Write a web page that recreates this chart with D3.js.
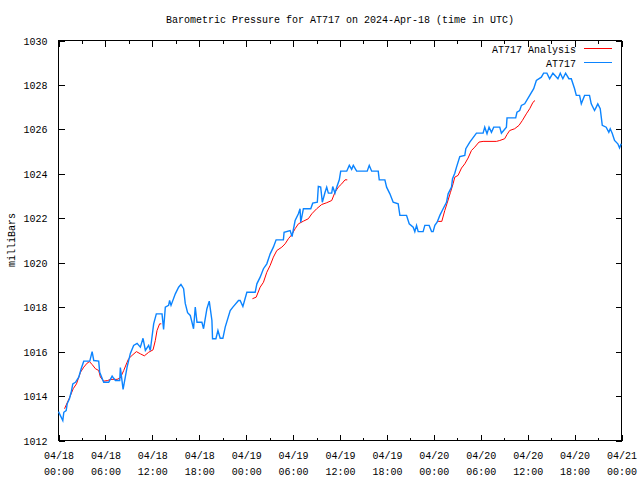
<!DOCTYPE html>
<html><head><meta charset="utf-8">
<script src="https://cdn.jsdelivr.net/npm/d3@7"></script>
<style>
body{margin:0;background:#fff;}
text{font-family:"Liberation Mono","DejaVu Sans Mono",monospace;font-size:10px;fill:#000;}
</style></head>
<body><svg id="c" width="640" height="480"></svg>
<script>
const titleText = "Barometric Pressure for AT717 on 2024-Apr-18 (time in UTC)";
const yLabel = "milliBars";
const startTime = "2024-04-18T00:00:00Z";
const endTime = "2024-04-21T00:00:00Z";
const yTicks = [1012,1014,1016,1018,1020,1022,1024,1026,1028,1030];
const seriesNames = ["AT717 Analysis","AT717"];

// AT717 observations: hours since start, pressure (mb)
const obsHours = [0,0.55,0.68,0.98,1.11,1.40,1.62,1.83,2.17,2.59,2.90,3.23,4.0,4.30,4.51,5.14,5.27,5.78,6.42,6.86,7.06,7.28,7.83,7.91,8.26,8.77,9.19,9.61,10.05,10.47,10.81,11.11,11.53,11.74,12.17,12.51,13.24,13.44,13.66,14.08,14.21,14.39,14.94,15.36,15.66,16.0,16.21,16.51,16.85,17.07,17.27,17.49,17.71,18.34,18.55,18.98,19.28,19.62,19.7,20.13,20.39,20.68,21.02,21.32,21.96,22.3,23.02,23.23,23.58,24.09,25.15,25.37,25.79,26.21,26.64,27.07,27.48,27.83,28.76,28.85,29.62,29.87,30.26,30.68,30.89,30.98,31.32,32.26,32.51,33.10,33.23,33.53,33.74,34.09,34.3,34.51,34.94,35.07,35.36,35.58,35.91,36.09,36.86,37.19,37.49,37.7,38.13,39.48,39.74,40.05,40.89,41.02,41.74,41.96,42.38,42.80,43.44,43.66,44.51,44.85,45.36,45.57,45.79,46.0,46.63,46.85,47.40,47.71,47.91,48.13,48.42,48.77,49.19,49.62,49.83,50.26,50.39,50.68,50.90,51.32,51.96,52.09,52.60,53.45,54.3,54.51,54.8,55.06,55.37,55.66,56.43,56.64,57.28,57.36,58.47,58.63,58.98,59.2,59.62,60.26,60.77,61.11,61.75,62.04,62.46,62.81,63.23,63.87,64.17,64.5,64.85,65.27,65.58,66.0,66.22,66.64,66.86,67.28,67.91,68.13,68.55,68.77,68.97,69.28,69.54,70.04,70.38,70.56,70.81,71.11,71.53,71.75,71.96];
const obsPressure = [1013.3,1012.9,1013.27,1013.35,1013.65,1013.88,1014.17,1014.55,1014.62,1014.85,1015.23,1015.57,1015.57,1016.0,1015.6,1015.57,1015.07,1014.62,1014.62,1014.9,1014.8,1014.7,1014.7,1015.28,1014.3,1015.3,1015.92,1016.28,1016.37,1016.2,1016.6,1016.05,1016.28,1016.05,1017.25,1017.7,1017.7,1017.0,1018.0,1018.08,1018.3,1018.08,1018.6,1018.9,1019.02,1018.83,1018.17,1017.75,1017.63,1017.32,1017.03,1018.0,1017.32,1017.32,1017.03,1017.93,1018.27,1017.4,1016.58,1016.58,1016.95,1016.6,1016.6,1017.1,1017.85,1018.0,1018.3,1018.3,1018.03,1018.67,1018.67,1019.05,1019.35,1019.73,1019.95,1020.4,1020.7,1021.03,1021.03,1021.37,1021.45,1021.18,1021.9,1022.2,1022.43,1021.82,1022.43,1022.43,1022.68,1022.72,1023.43,1023.4,1022.72,1023.17,1023.4,1023.13,1023.13,1023.43,1023.13,1023.4,1023.73,1024.12,1024.12,1024.38,1024.2,1024.38,1024.12,1024.12,1024.38,1024.12,1024.12,1023.73,1023.73,1023.4,1023.1,1022.72,1022.65,1022.13,1022.13,1021.75,1021.6,1021.4,1021.68,1021.4,1021.4,1021.68,1021.68,1021.4,1021.4,1021.68,1021.82,1022.13,1022.43,1022.72,1023.1,1023.4,1023.78,1024.03,1024.3,1024.78,1024.83,1025.13,1025.43,1025.83,1025.83,1026.1,1025.8,1026.1,1025.87,1026.1,1026.1,1025.83,1026.1,1026.52,1026.52,1026.77,1026.85,1027.08,1027.15,1027.53,1027.83,1028.2,1028.35,1028.53,1028.53,1028.28,1028.53,1028.28,1028.53,1028.28,1028.53,1028.28,1028.28,1027.83,1027.53,1027.53,1027.15,1027.53,1027.53,1027.15,1026.85,1027.0,1027.15,1026.93,1026.18,1026.1,1025.87,1026.03,1025.83,1025.5,1025.35,1025.17,1025.35];

// AT717 Analysis (three segments): hours since start, pressure
const anaHours1 = [0.77,1.44,1.88,2.30,2.81,3.23,3.66,3.96,4.30,4.72,5.14,5.36,5.78,6.29,6.64,7.49,7.91,8.34,8.77,8.97,9.41,9.96,10.47,10.98,11.53,12.09,12.38,12.6,12.93,13.15];
const anaPressure1 = [1013.43,1013.95,1014.33,1014.55,1015.07,1015.3,1015.48,1015.55,1015.42,1015.23,1015.15,1014.85,1014.67,1014.7,1014.75,1014.75,1014.82,1015.15,1015.52,1015.68,1015.83,1016.0,1015.9,1015.81,1015.97,1016.08,1016.5,1016.95,1017.25,1017.25];
const anaHours2 = [24.8,25.28,25.79,26.21,26.64,27.07,27.48,27.92,28.56,28.98,29.4,29.83,30.26,30.68,31.32,31.95,32.39,33.02,33.66,34.3,34.94,35.36,35.78,36.22,36.64,36.93];
const anaPressure2 = [1018.38,1018.45,1018.9,1019.12,1019.57,1019.88,1020.25,1020.55,1020.7,1020.85,1021.08,1021.26,1021.53,1021.75,1021.87,1021.98,1022.2,1022.43,1022.62,1022.7,1022.8,1023.17,1023.4,1023.55,1023.73,1023.73];
const anaHours3 = [48.55,49.02,49.40,49.70,50.13,50.46,50.68,51.1,51.54,51.96,52.38,52.81,53.23,53.78,54.3,56.0,56.43,57.06,57.36,57.7,58.34,58.89,59.32,59.83,60.26,60.68,60.94];
const anaPressure3 = [1021.86,1021.86,1022.35,1022.68,1023.17,1023.55,1023.85,1023.93,1024.26,1024.45,1024.71,1025.05,1025.2,1025.43,1025.46,1025.46,1025.5,1025.58,1025.77,1025.95,1026.03,1026.18,1026.4,1026.7,1026.93,1027.22,1027.3];

const svg = d3.select("#c");
const L = 58.5, R = 621.5, T = 40.5, B = 440.5;
const t0 = new Date(startTime), t1 = new Date(endTime);
const x = d3.scaleUtc().domain([t0, t1]).range([L, R]);
const y = d3.scaleLinear().domain([1012, 1030]).range([B, T]);
const hrs = h => new Date(t0.getTime() + h * 3600e3);

const majorT = d3.utcHour.every(6).range(t0, new Date(t1.getTime() + 1));
const minorT = d3.utcHour.every(3).range(t0, new Date(t1.getTime() + 1)).filter(d => d.getUTCHours() % 6 !== 0);

function styleAxis(g){ g.select(".domain").remove(); g.selectAll("line").attr("stroke","#000").attr("shape-rendering","crispEdges"); }
const FONT = '"Liberation Mono","DejaVu Sans Mono",monospace';

// bottom major + labels
const fmtD = d3.utcFormat("%m/%d"), fmtT = d3.utcFormat("%H:%M");
const gb = svg.append("g").attr("transform",`translate(0,${B})`)
  .call(d3.axisBottom(x).tickValues(majorT).tickSizeInner(-6).tickSizeOuter(0).tickPadding(0).tickFormat(""));
styleAxis(gb);
gb.selectAll(".tick text").remove();
gb.selectAll(".tick").each(function(d){
  const t = d3.select(this).append("text").attr("text-anchor","middle").style("font-family",FONT).style("font-size","10px").attr("fill","#000");
  t.append("tspan").attr("x",0).attr("y",18).text(fmtD(d));
  t.append("tspan").attr("x",0).attr("y",34).text(fmtT(d));
});
const gbm = svg.append("g").attr("transform",`translate(0,${B})`)
  .call(d3.axisBottom(x).tickValues(minorT).tickSizeInner(-3).tickSizeOuter(0).tickFormat(""));
styleAxis(gbm);
const gt = svg.append("g").attr("transform",`translate(0,${T})`)
  .call(d3.axisTop(x).tickValues(majorT).tickSizeInner(-6).tickSizeOuter(0).tickFormat(""));
styleAxis(gt);
const gtm = svg.append("g").attr("transform",`translate(0,${T})`)
  .call(d3.axisTop(x).tickValues(minorT).tickSizeInner(-3).tickSizeOuter(0).tickFormat(""));
styleAxis(gtm);

const gl = svg.append("g").attr("transform",`translate(${L},0)`)
  .call(d3.axisLeft(y).tickValues(yTicks).tickSizeInner(-6).tickSizeOuter(0).tickPadding(11).tickFormat(d3.format("d")));
styleAxis(gl);
gl.selectAll("text").attr("dy","0.35em").style("font-family",FONT).style("font-size","10px").attr("fill","#000");
const gr = svg.append("g").attr("transform",`translate(${R},0)`)
  .call(d3.axisRight(y).tickValues(yTicks).tickSizeInner(-6).tickSizeOuter(0).tickFormat(""));
styleAxis(gr);

svg.append("rect").attr("x",L).attr("y",T).attr("width",R-L).attr("height",B-T)
  .attr("fill","none").attr("stroke","#000").attr("shape-rendering","crispEdges");

// title & y label
svg.append("text").attr("x",340).attr("y",23).attr("text-anchor","middle").text(titleText);
svg.append("text").attr("transform","translate(15,240) rotate(-90)").attr("text-anchor","middle").text(yLabel);

const line = d3.line().x(d => x(hrs(d[0]))).y(d => y(d[1]));
const RED = "#ff0000", BLUE = "#0b84ff";

[[anaHours1,anaPressure1],[anaHours2,anaPressure2],[anaHours3,anaPressure3]].forEach(([h,p]) => {
  svg.append("path").datum(h.map((v,i)=>[v,p[i]])).attr("d",line)
    .attr("fill","none").attr("stroke",RED).attr("stroke-width",1);
});
svg.append("path").datum(obsHours.map((v,i)=>[v,obsPressure[i]])).attr("d",line)
  .attr("fill","none").attr("stroke",BLUE).attr("stroke-width",1.4).attr("stroke-linejoin","miter");

// legend
const leg = [[seriesNames[0],RED,49],[seriesNames[1],BLUE,63]];
leg.forEach(([name,col,yy]) => {
  svg.append("text").attr("x",576).attr("y",yy+4).attr("text-anchor","end").text(name);
  svg.append("line").attr("x1",584).attr("x2",612).attr("y1",yy-0.5).attr("y2",yy-0.5)
    .attr("stroke",col).attr("stroke-width",1);
});
</script></body></html>
